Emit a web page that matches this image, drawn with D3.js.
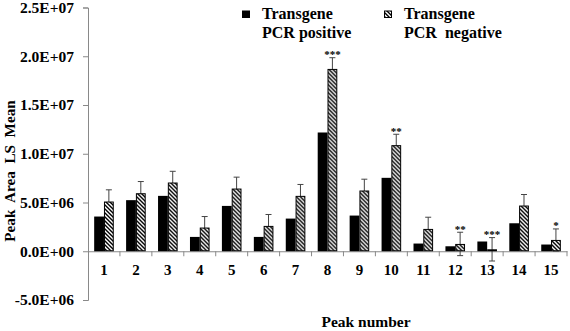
<!DOCTYPE html>
<html>
<head>
<meta charset="utf-8">
<script src="https://cdn.jsdelivr.net/npm/d3@7"></script>
<style>
  body { margin: 0; background: #fff; }
  text { font-family: "Liberation Serif", "Times New Roman", serif; font-weight: bold; }
</style>
</head>
<body>
<div id="chart"></div>
<script>
var peaks = ["1", "2", "3", "4", "5", "6", "7", "8", "9", "10", "11", "12", "13", "14", "15"];
var positive = [3.56e6, 5.24e6, 5.68e6, 1.47e6, 4.65e6, 1.47e6, 3.35e6, 12.18e6, 3.66e6, 7.53e6, 0.79e6, 0.51e6, 1.0e6, 2.87e6, 0.69e6];
var negative = [5.1e6, 5.95e6, 7.05e6, 2.43e6, 6.43e6, 2.6e6, 5.68e6, 18.7e6, 6.23e6, 10.88e6, 2.29e6, 0.75e6, 0.2e6, 4.69e6, 1.16e6];
var negativeErr = [1.2e6, 1.2e6, 1.15e6, 1.13e6, 1.17e6, 1.17e6, 1.17e6, 1.15e6, 1.16e6, 1.12e6, 1.2e6, 1.2e6, 1.2e6, 1.13e6, 1.13e6];
var stars = ["", "", "", "", "", "", "", "***", "", "**", "", "**", "***", "", "*"];
var yTicks = [-5e6, 0, 5e6, 1e7, 1.5e7, 2e7, 2.5e7];
var seriesNames = ["Transgene|PCR positive", "Transgene|PCR  negative"];

var width = 570, height = 331;
var plotLeft = 88, plotRight = 567, plotTop = 7.5, plotBottom = 300;

var svg = d3.select("#chart").append("svg")
    .attr("width", width)
    .attr("height", height);

var defs = svg.append("defs");
defs.append("pattern")
    .attr("id", "hatch")
    .attr("patternUnits", "userSpaceOnUse")
    .attr("width", 4)
    .attr("height", 4)
  .append("path")
    .attr("d", "M-1,-1L5,5M3,-1L5,1M-1,3L1,5")
    .attr("stroke", "#000")
    .attr("stroke-width", 1.4);

var x = d3.scaleBand().domain(peaks).range([plotLeft, plotRight]).padding(0);
var x1 = d3.scaleBand().domain(["pos", "neg"]).range([0, x.bandwidth()]).paddingOuter(0.63).paddingInner(0);
var y = d3.scaleLinear().domain([-5e6, 2.5e7]).range([plotBottom, plotTop]);

function sci(d) {
  if (d === 0) return "0.0E+00";
  var e = Math.floor(Math.log10(Math.abs(d)));
  var m = d / Math.pow(10, e);
  return m.toFixed(1) + "E" + (e < 0 ? "-" : "+") + String(Math.abs(e)).padStart(2, "0");
}

// y axis
var yAxis = svg.append("g")
    .attr("transform", "translate(" + plotLeft + ",0)")
    .call(d3.axisLeft(y).tickValues(yTicks).tickFormat(sci).tickSize(5).tickPadding(9));
yAxis.select(".domain").attr("stroke", "#898989");
yAxis.selectAll(".tick line").attr("stroke", "#898989");
yAxis.selectAll(".tick text")
    .attr("fill", "#000")
    .style("font-size", "15.5px")
    .style("font-family", "'Liberation Serif', serif");

// x axis at zero
var xAxis = svg.append("g")
    .attr("transform", "translate(0," + y(0) + ")")
    .call(d3.axisBottom(x).tickSize(0).tickPadding(13));
xAxis.select(".domain").attr("stroke", "#898989");
xAxis.selectAll(".tick text")
    .attr("fill", "#000")
    .style("font-size", "15px")
    .style("font-family", "'Liberation Serif', serif");
xAxis.selectAll(".bound")
    .data(peaks.slice(1).concat(["end"]))
  .enter().append("line")
    .attr("x1", function(d) { return d === "end" ? plotRight : x(d); })
    .attr("x2", function(d) { return d === "end" ? plotRight : x(d); })
    .attr("y1", 0)
    .attr("y2", 5)
    .attr("stroke", "#898989");

var groups = svg.selectAll(".peak")
    .data(peaks)
  .enter().append("g")
    .attr("class", "peak")
    .attr("transform", function(d) { return "translate(" + x(d) + ",0)"; });

// error bars first so the bars hide the part inside them
var cx = x1("neg") + x1.bandwidth() / 2;
groups.append("line")
    .attr("x1", cx).attr("x2", cx)
    .attr("y1", function(d, i) { return y(negative[i] + negativeErr[i]); })
    .attr("y2", function(d, i) { return y(negative[i] - negativeErr[i]); })
    .attr("stroke", "#444");
groups.append("line")
    .attr("x1", cx - 3).attr("x2", cx + 3)
    .attr("y1", function(d, i) { return y(negative[i] + negativeErr[i]); })
    .attr("y2", function(d, i) { return y(negative[i] + negativeErr[i]); })
    .attr("stroke", "#444");
groups.append("line")
    .attr("x1", cx - 3).attr("x2", cx + 3)
    .attr("y1", function(d, i) { return y(negative[i] - negativeErr[i]); })
    .attr("y2", function(d, i) { return y(negative[i] - negativeErr[i]); })
    .attr("stroke", "#444");

groups.append("rect")
    .attr("x", x1("pos"))
    .attr("width", x1.bandwidth())
    .attr("y", function(d, i) { return y(positive[i]); })
    .attr("height", function(d, i) { return y(0) - y(positive[i]); })
    .attr("fill", "#000");

groups.append("rect")
    .attr("x", x1("neg") + 0.5)
    .attr("width", x1.bandwidth() - 1)
    .attr("y", function(d, i) { return y(negative[i]) + 0.5; })
    .attr("height", function(d, i) { return Math.max(0, y(0) - y(negative[i]) - 1); })
    .attr("fill", "#fff")
    .attr("stroke", "#000")
    .attr("stroke-width", 1);
groups.append("rect")
    .attr("x", x1("neg") + 0.5)
    .attr("width", x1.bandwidth() - 1)
    .attr("y", function(d, i) { return y(negative[i]) + 0.5; })
    .attr("height", function(d, i) { return Math.max(0, y(0) - y(negative[i]) - 1); })
    .attr("fill", "url(#hatch)");

// significance stars
var starLayer = svg.append("g").attr("opacity", 0.99);
starLayer.selectAll("text")
    .data(peaks)
  .enter().append("text")
    .attr("x", function(d) { return x(d) + cx; })
    .attr("y", function(d, i) { return y(negative[i] + negativeErr[i]) + 0.5; })
    .attr("text-anchor", "middle")
    .attr("fill", "#000")
    .style("font-size", "11px")
    .text(function(d, i) { return stars[i]; });

// legend
var legendX = [242, 384];
var legend = svg.selectAll(".legend")
    .data(seriesNames)
  .enter().append("g")
    .attr("class", "legend")
    .attr("transform", function(d, i) { return "translate(" + legendX[i] + ",0)"; });
legend.append("rect")
    .attr("x", 0.5).attr("y", 11)
    .attr("width", 7).attr("height", 6.5)
    .attr("fill", function(d, i) { return i === 0 ? "#000" : "url(#hatch)"; })
    .attr("stroke", "#000")
    .attr("stroke-width", 1);
legend.selectAll("text")
    .data(function(d) { return d.split("|"); })
  .enter().append("text")
    .attr("x", 20)
    .attr("y", function(d, j) { return 19.3 + j * 19; })
    .style("font-size", "16px")
    .style("white-space", "pre")
    .text(function(d) { return d; });

// axis titles
svg.append("text")
    .attr("transform", "translate(14.5,171) rotate(-90)")
    .attr("text-anchor", "middle")
    .style("font-size", "15.2px")
    .style("white-space", "pre")
    .text("Peak  Area  LS  Mean");

svg.append("text")
    .attr("x", 366)
    .attr("y", 327)
    .attr("text-anchor", "middle")
    .style("font-size", "15.5px")
    .text("Peak number");
</script>
</body>
</html>
